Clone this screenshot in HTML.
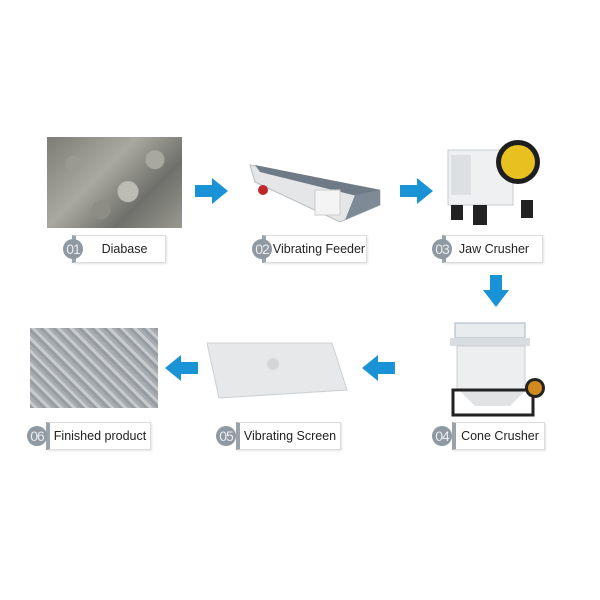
<!DOCTYPE html>
<html><head><style>
body{margin:0;width:600px;height:600px;background:#fff;position:relative;overflow:hidden;font-family:"Liberation Sans","DejaVu Sans",sans-serif}
.a{position:absolute}
.lb{position:absolute;box-sizing:border-box;height:28px;border:1px solid #dcdcdc;border-left:4px solid #9aa3aa;background:#fff;box-shadow:1px 1px 2px #e4e4e4;font-size:12.5px;color:#222;line-height:26px;white-space:nowrap;text-align:center}
.bd{position:absolute;width:20px;height:20px;border-radius:50%;background:#8f99a1;color:#e8ecef;font-size:14px;line-height:20px;text-align:center;letter-spacing:-1px}
.rock{background:
radial-gradient(circle at 20% 30%,#9a9a92 0 8px,transparent 9px),
radial-gradient(circle at 60% 60%,#bdbcb4 0 10px,transparent 11px),
radial-gradient(circle at 80% 25%,#a8a89f 0 9px,transparent 10px),
radial-gradient(circle at 40% 80%,#8d8d86 0 9px,transparent 10px),
linear-gradient(135deg,#7c7c76,#a9a8a0 40%,#6f706b 70%,#999890);}
.grav{background:
repeating-linear-gradient(45deg,#8c939a 0 3px,#c3c6c8 3px 6px,#9ea4a8 6px 9px),#a5a9ad;opacity:.9}
</style></head><body>
<div class="a rock" style="left:47px;top:137px;width:135px;height:91px"></div>
<svg class="a" style="left:245px;top:160px" width="140" height="70">
<polygon points="5,5 135,30 135,45 95,62 10,22" fill="#e4e6e8" stroke="#b8bcc0"/>
<polygon points="10,5 135,30 120,38 15,12" fill="#6e7a86"/>
<polygon points="110,35 135,30 135,45 100,60" fill="#7e8a96"/>
<rect x="70" y="30" width="25" height="25" fill="#f4f4f4" stroke="#ccc"/>
<circle cx="18" cy="30" r="5" fill="#c0282c"/>
</svg>
<svg class="a" style="left:443px;top:130px" width="100" height="100">
<rect x="5" y="20" width="65" height="55" fill="#eef0f2" stroke="#c8ccd0"/>
<rect x="8" y="25" width="20" height="40" fill="#dde0e3"/>
<circle cx="75" cy="32" r="22" fill="#1e1e1e"/><circle cx="75" cy="32" r="17" fill="#e8c020"/>
<rect x="8" y="75" width="12" height="15" fill="#222"/><rect x="30" y="75" width="14" height="20" fill="#222"/><rect x="78" y="70" width="12" height="18" fill="#222"/>
</svg>
<svg class="a" style="left:445px;top:318px" width="105" height="100">
<rect x="10" y="5" width="70" height="15" fill="#e8ecef" stroke="#a8b4c0"/>
<rect x="5" y="20" width="80" height="8" fill="#d8dde2"/>
<rect x="12" y="28" width="68" height="45" fill="#eceeef" stroke="#ccc"/>
<polygon points="15,73 80,73 65,88 30,88" fill="#e0e2e4"/>
<rect x="8" y="72" width="80" height="25" fill="none" stroke="#222" stroke-width="3"/>
<circle cx="90" cy="70" r="10" fill="#222"/><circle cx="90" cy="70" r="7" fill="#d08a20"/>
</svg>
<svg class="a" style="left:207px;top:340px" width="145" height="62">
<polygon points="0,3 125,3 140,50 12,58" fill="#e6e8ea" stroke="#cdd0d3"/>
<circle cx="66" cy="24" r="6" fill="#d4d6d8"/>
</svg>
<div class="a grav" style="left:30px;top:328px;width:128px;height:80px"></div>
<svg class="a" style="left:0;top:0" width="600" height="600">
<g fill="#1a92d6">
<polygon points="195,185 212,185 212,178 228,191 212,204 212,197 195,197"/>
<polygon points="400,185 417,185 417,178 433,191 417,204 417,197 400,197"/>
<polygon points="490,275 502,275 502,290 509,290 496,307 483,290 490,290"/>
<polygon points="395,362 378,362 378,355 362,368 378,381 378,374 395,374"/>
<polygon points="198,362 181,362 181,355 165,368 181,381 181,374 198,374"/>
</g></svg>
<div class="lb" style="left:72px;top:235px;width:94px;padding-left:8px">Diabase</div><div class="bd" style="left:63px;top:239px">01</div>
<div class="lb" style="left:262px;top:235px;width:105px;padding-left:6px">Vibrating Feeder</div><div class="bd" style="left:252px;top:239px">02</div>
<div class="lb" style="left:442px;top:235px;width:101px">Jaw Crusher</div><div class="bd" style="left:432px;top:239px">03</div>
<div class="lb" style="left:452px;top:422px;width:93px">Cone Crusher</div><div class="bd" style="left:432px;top:426px">04</div>
<div class="lb" style="left:236px;top:422px;width:105px">Vibrating Screen</div><div class="bd" style="left:216px;top:426px">05</div>
<div class="lb" style="left:46px;top:422px;width:105px">Finished product</div><div class="bd" style="left:27px;top:426px">06</div>
</body></html>
